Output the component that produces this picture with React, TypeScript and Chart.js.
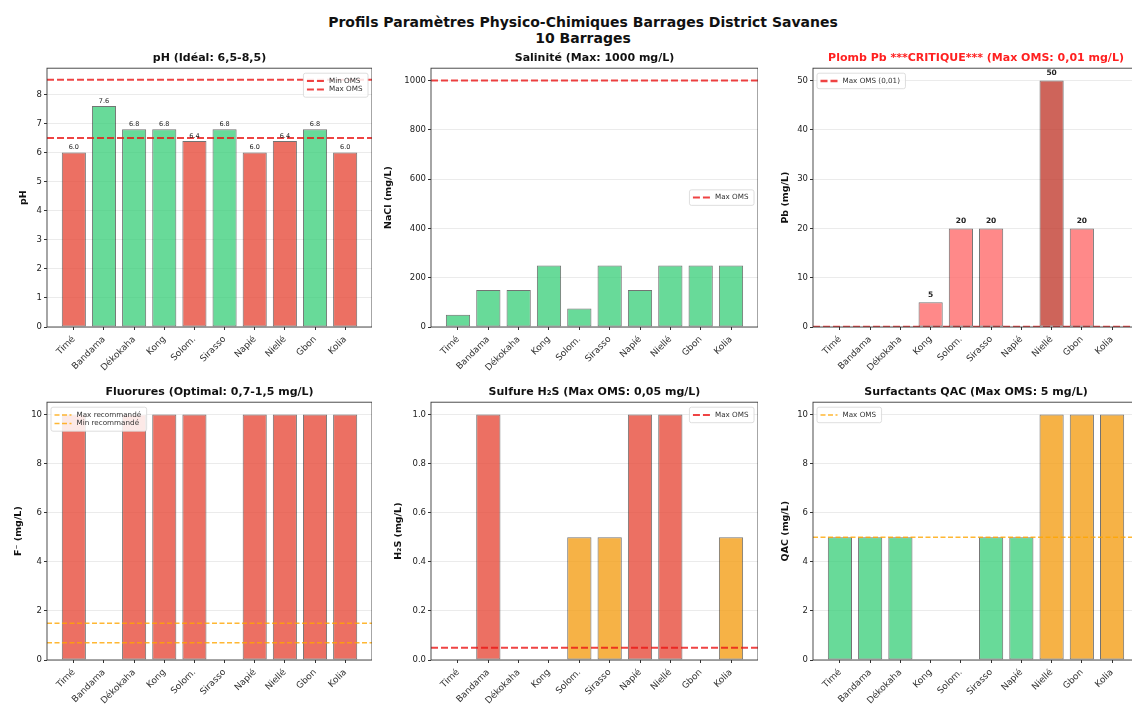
import React, { useEffect, useRef } from "react";
import { Chart, registerables } from "chart.js";

Chart.register(...registerables);
Chart.defaults.font.family = '"DejaVu Sans", sans-serif';

// ---------------- data ----------------
const barrages = ["Timé", "Bandama", "Dékokaha", "Kong", "Solom.", "Sirasso", "Napié", "Niellé", "Gbon", "Kolia"];

const phValues = [6.0, 7.6, 6.8, 6.8, 6.4, 6.8, 6.0, 6.4, 6.8, 6.0];
const salinityValues = [50, 150, 150, 250, 75, 250, 150, 250, 250, 250];
const leadValues = [0, 0, 0, 5, 20, 20, 0, 50, 20, 0];
const fluorideValues = [10, 0, 10, 10, 10, 0, 10, 10, 10, 10];
const h2sValues = [0, 1, 0, 0, 0.5, 0.5, 1, 1, 0, 0.5];
const qacValues = [5, 5, 5, 0, 0, 5, 5, 10, 10, 10];

const phTicks = [0, 1, 2, 3, 4, 5, 6, 7, 8];
const salinityTicks = [0, 200, 400, 600, 800, 1000];
const leadTicks = [0, 10, 20, 30, 40, 50];
const fluorideTicks = [0, 2, 4, 6, 8, 10];
const h2sTicks = [0, 0.2, 0.4, 0.6, 0.8, 1.0];
const qacTicks = [0, 2, 4, 6, 8, 10];

const phLimits = [6.5, 8.5];
const salinityMax = 1000;
const leadMax = 0.01;
const fluorideLimits = [1.5, 0.7];
const h2sMax = 0.05;
const qacMax = 5;

// ---------------- styles ----------------
const RED = "rgba(231,76,60,0.8)";
const GREEN = "rgba(46,204,113,0.72)";
const ORANGE = "rgba(243,156,18,0.78)";
const PB_LIGHT = "rgba(255,107,107,0.8)";
const PB_DARK = "rgba(192,57,43,0.78)";
const LINE_RED = "rgba(235,20,20,0.8)";
const LINE_ORANGE = "rgba(255,165,0,0.8)";

type RefLine = { label: string; value: number; color: string; width: number; dash: number[] };
type Panel = {
  title: string;
  titleColor: string;
  yTitle: string;
  values: number[];
  ticks: number[];
  yMax: number;
  fmt: (v: number) => string;
  color: (v: number) => string;
  lines: RefLine[];
  legendLoc: "tl" | "tr" | "cr";
  labels: null | "ph" | "pb";
  left: number;
  top: number;
  width: number;
  height: number;
  yw: number;
};

const X_AXIS_H = 48;
const TOP_Y = 52;
const TOP_H = 323;
const BOT_Y = 386;
const BOT_H = 322;

const panels: Panel[] = [
  {
    title: "pH (Idéal: 6,5-8,5)",
    titleColor: "#111",
    yTitle: "pH",
    values: phValues,
    ticks: phTicks,
    yMax: 8.9,
    fmt: (v) => String(v),
    color: (v) => (v < phLimits[0] || v > phLimits[1] ? RED : GREEN),
    lines: [
      { label: "Min OMS", value: phLimits[0], color: LINE_RED, width: 2, dash: [7, 3] },
      { label: "Max OMS", value: phLimits[1], color: LINE_RED, width: 2, dash: [7, 3] },
    ],
    legendLoc: "tr",
    labels: "ph",
    left: 18, top: TOP_Y, width: 354, height: TOP_H, yw: 29,
  },
  {
    title: "Salinité (Max: 1000 mg/L)",
    titleColor: "#111",
    yTitle: "NaCl (mg/L)",
    values: salinityValues,
    ticks: salinityTicks,
    yMax: 1050,
    fmt: (v) => String(v),
    color: (v) => (v > salinityMax ? RED : GREEN),
    lines: [{ label: "Max OMS", value: salinityMax, color: LINE_RED, width: 2, dash: [7, 3] }],
    legendLoc: "cr",
    labels: null,
    left: 383, top: TOP_Y, width: 375, height: TOP_H, yw: 48,
  },
  {
    title: "Plomb Pb ***CRITIQUE*** (Max OMS: 0,01 mg/L)",
    titleColor: "#ff2020",
    yTitle: "Pb (mg/L)",
    values: leadValues,
    ticks: leadTicks,
    yMax: 52.5,
    fmt: (v) => String(v),
    color: (v) => (v >= 50 ? PB_DARK : PB_LIGHT),
    lines: [{ label: "Max OMS (0,01)", value: leadMax, color: LINE_RED, width: 2.5, dash: [7, 3] }],
    legendLoc: "tl",
    labels: "pb",
    left: 780, top: TOP_Y, width: 359, height: TOP_H, yw: 33,
  },
  {
    title: "Fluorures (Optimal: 0,7-1,5 mg/L)",
    titleColor: "#111",
    yTitle: "F⁻ (mg/L)",
    values: fluorideValues,
    ticks: fluorideTicks,
    yMax: 10.5,
    fmt: (v) => String(v),
    color: (v) => (v > fluorideLimits[0] ? RED : GREEN),
    lines: [
      { label: "Max recommandé", value: fluorideLimits[0], color: LINE_ORANGE, width: 1.5, dash: [5, 2.5] },
      { label: "Min recommandé", value: fluorideLimits[1], color: LINE_ORANGE, width: 1.5, dash: [5, 2.5] },
    ],
    legendLoc: "tl",
    labels: null,
    left: 13, top: BOT_Y, width: 359, height: BOT_H, yw: 34,
  },
  {
    title: "Sulfure H₂S (Max OMS: 0,05 mg/L)",
    titleColor: "#111",
    yTitle: "H₂S (mg/L)",
    values: h2sValues,
    ticks: h2sTicks,
    yMax: 1.05,
    fmt: (v) => v.toFixed(1),
    color: (v) => (v > 0.5 ? RED : v > h2sMax ? ORANGE : GREEN),
    lines: [{ label: "Max OMS", value: h2sMax, color: LINE_RED, width: 2, dash: [7, 3] }],
    legendLoc: "tr",
    labels: null,
    left: 393, top: BOT_Y, width: 365, height: BOT_H, yw: 38,
  },
  {
    title: "Surfactants QAC (Max OMS: 5 mg/L)",
    titleColor: "#111",
    yTitle: "QAC (mg/L)",
    values: qacValues,
    ticks: qacTicks,
    yMax: 10.5,
    fmt: (v) => String(v),
    color: (v) => (v > qacMax ? ORANGE : GREEN),
    lines: [{ label: "Max OMS", value: qacMax, color: LINE_ORANGE, width: 1.5, dash: [5, 2.5] }],
    legendLoc: "tl",
    labels: null,
    left: 780, top: BOT_Y, width: 359, height: BOT_H, yw: 33,
  },
];

function makePlugin(p: Panel) {
  return {
    id: "panelDeco",
    afterDatasetsDraw(chart: any) {
      const { ctx, chartArea: a } = chart;
      if (p.labels) {
        const meta = chart.getDatasetMeta(0);
        ctx.save();
        ctx.textAlign = "center";
        ctx.textBaseline = "bottom";
        ctx.fillStyle = "#222";
        meta.data.forEach((el: any, i: number) => {
          const v = p.values[i];
          if (p.labels === "ph") {
            ctx.font = '6.5px "DejaVu Sans"';
            ctx.fillText(v.toFixed(1), el.x, el.y - 1.5);
          } else if (v > 0) {
            ctx.font = 'bold 7.5px "DejaVu Sans"';
            ctx.fillText(String(v), el.x, el.y - 4);
          }
        });
        ctx.restore();
      }
      ctx.save();
      ctx.strokeStyle = "#3a3a3a";
      ctx.lineWidth = 0.9;
      ctx.strokeRect(a.left, a.top, a.right - a.left, a.bottom - a.top);
      ctx.restore();
    },
    afterDraw(chart: any) {
      const { ctx, chartArea: a } = chart;
      const fs = 7.2;
      ctx.save();
      ctx.font = `${fs}px "DejaVu Sans"`;
      const handle = 17, gap = 5, pad = 3.5, rowH = 8.5;
      const tw = Math.max(...p.lines.map((l) => ctx.measureText(l.label).width));
      const w = pad * 2 + handle + gap + tw + 2;
      const h = pad * 2 + rowH * p.lines.length;
      const x = p.legendLoc === "tl" ? a.left + 4 : a.right - 4 - w;
      const y = p.legendLoc === "cr" ? (a.top + a.bottom) / 2 - h / 2 : a.top + 5;
      ctx.fillStyle = "rgba(255,255,255,0.85)";
      ctx.strokeStyle = "#d6d6d6";
      ctx.lineWidth = 0.8;
      ctx.beginPath();
      if ((ctx as any).roundRect) (ctx as any).roundRect(x, y, w, h, 2);
      else ctx.rect(x, y, w, h);
      ctx.fill();
      ctx.stroke();
      p.lines.forEach((l, i) => {
        const cy = y + pad + rowH * i + rowH / 2;
        ctx.strokeStyle = l.color;
        ctx.lineWidth = l.width;
        ctx.setLineDash(l.dash);
        ctx.beginPath();
        ctx.moveTo(x + pad, cy);
        ctx.lineTo(x + pad + handle, cy);
        ctx.stroke();
        ctx.setLineDash([]);
        ctx.fillStyle = "#333";
        ctx.textBaseline = "middle";
        ctx.textAlign = "left";
        ctx.fillText(l.label, x + pad + handle + gap, cy);
      });
      ctx.restore();
    },
  };
}

function PanelChart({ p }: { p: Panel }) {
  const ref = useRef<HTMLCanvasElement>(null);
  useEffect(() => {
    const canvas = ref.current;
    if (!canvas) return;
    const xMin = -0.89;
    const xMax = barrages.length - 1 + 0.89;
    const chart = new Chart(canvas, {
      type: "bar",
      data: {
        datasets: [
          {
            type: "bar",
            label: "bars",
            data: p.values.map((v, i) => ({ x: i, y: v })),
            backgroundColor: p.values.map((v) => p.color(v)),
            borderColor: "rgba(0,0,0,0.55)",
            borderWidth: 1,
            borderSkipped: false,
            barPercentage: 0.8,
            categoryPercentage: 1,
            grouped: false,
            xAxisID: "x",
            yAxisID: "y",
            order: 2,
          } as any,
          ...p.lines.map(
            (l) =>
              ({
                type: "line",
                label: l.label,
                data: [
                  { x: 0, y: l.value },
                  { x: 1, y: l.value },
                ],
                borderColor: l.color,
                borderWidth: l.width,
                borderDash: l.dash,
                pointRadius: 0,
                fill: false,
                xAxisID: "x2",
                yAxisID: "y",
                order: 1,
              } as any)
          ),
        ],
      },
      options: {
        responsive: false,
        animation: false,
        events: [],
        layout: { padding: 0 },
        plugins: {
          legend: { display: false },
          tooltip: { enabled: false },
          title: {
            display: true,
            text: p.title,
            color: p.titleColor,
            font: { size: 11, weight: "bold" },
            padding: { top: 0, bottom: 3 },
            fullSize: false,
          },
        },
        scales: {
          x: {
            type: "linear",
            min: xMin,
            max: xMax,
            offset: false,
            afterBuildTicks: (s: any) => {
              s.ticks = barrages.map((_, i) => ({ value: i }));
            },
            afterFit: (s: any) => {
              s.height = X_AXIS_H;
            },
            ticks: {
              callback: (v: any) => barrages[v as number],
              autoSkip: false,
              maxRotation: 45,
              minRotation: 45,
              font: { size: 9 },
              color: "#333",
              padding: 4,
            },
            grid: { offset: false, drawOnChartArea: false, tickLength: 3, color: "#333" },
            border: { display: false },
          },
          x2: { type: "linear", display: false, min: 0, max: 1, offset: false, grid: { offset: false } },
          y: {
            type: "linear",
            min: 0,
            max: p.yMax,
            afterBuildTicks: (s: any) => {
              s.ticks = p.ticks.map((v) => ({ value: v }));
            },
            afterFit: (s: any) => {
              s.width = p.yw;
            },
            ticks: {
              callback: (v: any) => p.fmt(Number(v)),
              font: { size: 8.5 },
              color: "#222",
              padding: 2,
            },
            grid: { color: "rgba(0,0,0,0.08)", tickColor: "#333", tickLength: 3 },
            border: { display: false },
            title: {
              display: true,
              text: p.yTitle,
              color: "#111",
              font: { size: 9.5, weight: "bold" },
              padding: 0,
            },
          },
        },
      } as any,
      plugins: [makePlugin(p) as any],
    });
    return () => chart.destroy();
  }, [p]);
  return (
    <canvas
      ref={ref}
      width={p.width}
      height={p.height}
      style={{ position: "absolute", left: p.left, top: p.top, width: p.width, height: p.height }}
    />
  );
}

export default function App() {
  return (
    <div
      style={{
        position: "absolute",
        left: 0,
        top: 0,
        width: 1132,
        height: 708,
        overflow: "hidden",
        background: "#fff",
        fontFamily: '"DejaVu Sans", sans-serif',
      }}
    >
      <div
        style={{
          position: "absolute",
          left: 0,
          top: 14,
          width: 1166,
          textAlign: "center",
          fontWeight: "bold",
          fontSize: 14,
          lineHeight: "16px",
          color: "#111",
        }}
      >
        <div>Profils Paramètres Physico-Chimiques Barrages District Savanes</div>
        <div>10 Barrages</div>
      </div>
      {panels.map((p, i) => (
        <PanelChart key={i} p={p} />
      ))}
    </div>
  );
}
